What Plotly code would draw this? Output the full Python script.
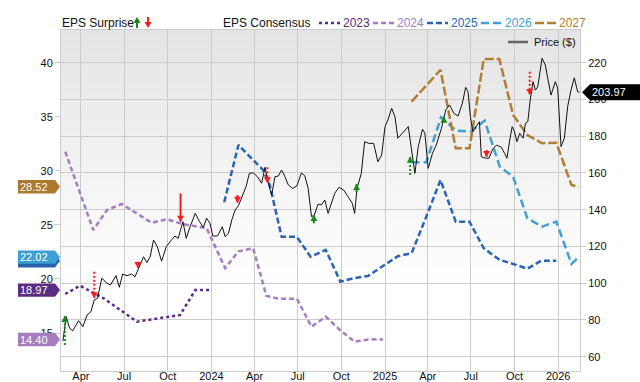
import plotly.graph_objects as go

# ---------------- data ----------------
price_dates = ["2023-02-22","2023-03-01","2023-03-08","2023-03-15","2023-03-27","2023-04-05","2023-04-14","2023-04-22","2023-04-29","2023-05-06","2023-05-15","2023-05-26","2023-06-02","2023-06-14","2023-06-21","2023-06-28","2023-07-07","2023-07-17","2023-07-24","2023-08-04","2023-08-11","2023-08-18","2023-08-25","2023-09-01","2023-09-09","2023-09-18","2023-09-28","2023-10-06","2023-10-16","2023-10-23","2023-11-02","2023-11-09","2023-11-17","2023-11-28","2023-12-07","2023-12-15","2023-12-22","2023-12-29","2024-01-04","2024-01-14","2024-01-24","2024-01-30","2024-02-06","2024-02-13","2024-02-20","2024-02-27","2024-03-05","2024-03-14","2024-03-21","2024-03-29","2024-04-07","2024-04-16","2024-04-23","2024-04-30","2024-05-07","2024-05-14","2024-05-21","2024-05-28","2024-06-04","2024-06-11","2024-06-20","2024-06-29","2024-07-09","2024-07-16","2024-07-23","2024-07-30","2024-08-05","2024-08-13","2024-08-20","2024-08-27","2024-09-03","2024-09-10","2024-09-17","2024-09-26","2024-10-06","2024-10-15","2024-10-24","2024-10-29","2024-11-03","2024-11-12","2024-11-19","2024-11-28","2024-12-08","2024-12-17","2024-12-25","2025-01-01","2025-01-07","2025-01-15","2025-01-22","2025-01-28","2025-02-08","2025-02-19","2025-02-26","2025-03-05","2025-03-12","2025-03-21","2025-03-26","2025-04-02","2025-04-11","2025-04-19","2025-04-30","2025-05-09","2025-05-17","2025-05-26","2025-06-04","2025-06-13","2025-06-20","2025-06-25","2025-06-30","2025-07-05","2025-07-12","2025-07-19","2025-07-23","2025-08-01","2025-08-08","2025-08-16","2025-08-24","2025-09-03","2025-09-10","2025-09-15","2025-09-21","2025-09-26","2025-10-01","2025-10-06","2025-10-12","2025-10-19","2025-10-24","2025-10-29","2025-11-03","2025-11-09","2025-11-14","2025-11-19","2025-11-28","2025-12-05","2025-12-10","2025-12-17","2025-12-26","2025-12-31","2026-01-07","2026-01-14","2026-01-21","2026-01-28","2026-02-04","2026-02-11","2026-02-15"]
price_values = [68.5, 81.8, 75.5, 74.2, 79.6, 76.3, 82.7, 84.5, 90.9, 91.8, 102.7, 100.0, 99.0, 104.1, 97.8, 105.0, 104.1, 105.0, 103.5, 110.8, 114.4, 111.2, 114.4, 123.5, 119.9, 112.0, 119.9, 122.6, 125.7, 124.4, 133.5, 124.4, 130.7, 138.0, 133.5, 130.4, 135.3, 132.6, 125.7, 125.7, 130.7, 125.3, 127.1, 134.4, 139.8, 142.2, 147.1, 152.5, 159.8, 160.1, 158.0, 154.4, 163.1, 154.4, 148.0, 158.0, 158.3, 161.6, 158.0, 153.5, 151.6, 152.9, 160.1, 158.3, 151.6, 136.2, 137.1, 143.1, 142.6, 145.3, 138.0, 143.5, 148.9, 152.2, 150.7, 147.1, 143.5, 138.0, 151.6, 159.8, 177.0, 176.1, 176.1, 166.1, 169.8, 185.2, 188.8, 195.2, 190.6, 178.9, 181.9, 185.2, 172.5, 159.8, 174.3, 183.8, 181.6, 162.5, 170.7, 175.2, 184.3, 194.3, 197.0, 192.5, 191.0, 197.9, 206.6, 204.2, 190.6, 182.4, 185.2, 187.9, 168.8, 168.0, 168.0, 172.9, 175.2, 174.0, 170.7, 168.0, 178.0, 185.2, 182.4, 177.0, 181.6, 178.9, 187.0, 187.9, 199.7, 209.7, 205.1, 206.9, 222.4, 218.7, 211.5, 202.4, 209.7, 206.1, 174.3, 178.9, 196.1, 205.1, 211.8, 204.2, 203.97]

eps2023_dates = ["2023-02-27","2023-03-30","2023-05-19","2023-07-28","2023-10-27","2023-11-28","2023-12-29"]
eps2023_values = [18.61, 19.38, 18.21, 16.05, 16.67, 18.97, 18.97]

eps2024_dates = ["2023-02-27","2023-04-27","2023-05-26","2023-06-26","2023-08-28","2023-09-29","2023-10-31","2023-12-22","2024-01-30","2024-02-27","2024-03-29","2024-04-26","2024-05-21","2024-06-29","2024-07-30","2024-08-29","2024-09-28","2024-10-29","2024-11-30","2024-12-28"]
eps2024_values = [31.77, 24.53, 26.38, 26.93, 25.20, 25.52, 25.09, 24.69, 21.00, 22.55, 22.84, 18.43, 18.18, 18.18, 15.59, 16.51, 15.28, 14.20, 14.42, 14.40]

eps2025_dates = ["2024-01-28","2024-02-27","2024-03-29","2024-04-19","2024-05-03","2024-05-28","2024-06-29","2024-07-28","2024-08-29","2024-09-29","2024-10-26","2024-11-26","2025-01-28","2025-02-26","2025-03-29","2025-04-28","2025-05-30","2025-06-28","2025-07-28","2025-08-31","2025-09-28","2025-10-28","2025-11-26","2025-12-28"]
eps2025_values = [27.10, 32.39, 31.00, 30.08, 28.69, 23.91, 23.91, 22.06, 22.68, 19.75, 20.06, 20.28, 22.10, 22.38, 25.76, 29.15, 25.30, 25.30, 22.84, 21.76, 21.39, 20.95, 21.69, 21.69]

eps2026_dates = ["2025-02-26","2025-03-29","2025-04-29","2025-05-31","2025-06-30","2025-07-30","2025-08-31","2025-09-28","2025-10-28","2025-11-28","2025-12-28","2026-01-29","2026-02-13"]
eps2026_values = [30.79, 30.79, 34.95, 33.71, 33.62, 34.64, 30.38, 29.46, 25.61, 24.84, 25.30, 21.39, 22.02]

eps2027_dates = ["2025-02-26","2025-04-28","2025-05-30","2025-06-28","2025-07-28","2025-08-30","2025-09-28","2025-10-28","2025-11-28","2025-12-28","2026-01-29","2026-02-13"]
eps2027_values = [36.40, 39.33, 32.08, 32.08, 40.34, 40.34, 35.16, 33.31, 32.55, 32.60, 28.69, 28.52]

surprise_dates = ["2023-02-26","2023-04-29","2023-07-30","2023-10-28","2024-02-25","2024-04-28","2024-08-04","2024-11-02","2025-02-23","2025-05-05","2025-08-03","2025-11-02"]
surprise_direction = [1, -1, -1, -1, -1, -1, 1, 1, 1, 1, -1, -1]
surprise_tip = [82.2, 91.8, 108.3, 133.5, 143.8, 154.4, 137.1, 154.0, 168.8, 190.6, 168.7, 202.4]
surprise_tail = [66.4, 106.3, 111.7, 148.9, 148.0, 163.1, 132.6, 149.6, 158.9, 187.7, 172.5, 215.1]
surprise_revised = [True, True, False, False, False, True, False, False, True, False, False, True]

x_tick_dates = ["2023-04-01","2023-07-01","2023-10-01","2024-01-01","2024-04-01","2024-07-01","2024-10-01","2025-01-01","2025-04-01","2025-07-01","2025-10-01","2026-01-01"]
x_tick_labels = ["Apr","Jul","Oct","2024","Apr","Jul","Oct","2025","Apr","Jul","Oct","2026"]
eps_ticks = [15, 20, 25, 30, 35, 40]
price_ticks = [60, 80, 100, 120, 140, 160, 180, 200, 220]
x_range = ["2023-02-18", "2026-02-16"]
eps_range = [11.49, 43.02]
price_range = [52.22, 237.8]

# ---------------- styling ----------------
FONT = "Liberation Sans, Arial, sans-serif"
W, H = 640, 382
PL, PR, PT, PB = 61, 580, 30, 371
GREEN = "#168a16"
RED = "#ff1a1a"
GRID = "#cccccc"

series = [
    dict(name="2023", dates=eps2023_dates, values=eps2023_values, color="#5b2b82", dash="3px,3px", tag="#5b2c7f"),
    dict(name="2024", dates=eps2024_dates, values=eps2024_values, color="#a47ec0", dash="5px,3px", tag="#a47dbf"),
    dict(name="2025", dates=eps2025_dates, values=eps2025_values, color="#2a64b2", dash="6px,3px", tag="#2a62ad"),
    dict(name="2026", dates=eps2026_dates, values=eps2026_values, color="#41a0d0", dash="8px,4px", tag="#3d9fd3"),
    dict(name="2027", dates=eps2027_dates, values=eps2027_values, color="#b07d33", dash="9px,3px", tag="#ab7a2e"),
]


def xp(px):
    return (px - PL) / (PR - PL)


def yp(py):
    return (PB - py) / (PB - PT)


fig = go.Figure()

for s in series:
    fig.add_trace(go.Scatter(x=s["dates"], y=s["values"], yaxis="y", mode="lines",
                             line=dict(color=s["color"], width=2.5, dash=s["dash"]),
                             hoverinfo="skip", showlegend=False))

fig.add_trace(go.Scatter(x=price_dates, y=price_values, yaxis="y2", mode="lines",
                         line=dict(color="#111111", width=1), hoverinfo="skip", showlegend=False))

shapes = []
# background gradient
n = 50
for i in range(n):
    t0, t1 = i / n, (i + 1) / n
    tm = (t0 + t1) / 2
    k = max(0.0, min(1.0, (tm - 0.25) / 0.75))
    v = round(255 - 27 * k)
    shapes.append(dict(type="rect", xref="paper", yref="paper", x0=0, x1=1, y0=t0, y1=min(1, t1 + 0.003),
                       fillcolor=f"rgb({v},{v},{v})", line=dict(width=0), layer="below"))

UP_HEAD = "M-3.5,-6 L3.5,-6 L0,0 Z"
DOWN_HEAD = "M-3.5,6 L3.5,6 L0,0 Z"

# surprise arrows
for d, s, tip, tail, rev in zip(surprise_dates, surprise_direction, surprise_tip, surprise_tail, surprise_revised):
    col = GREEN if s > 0 else RED
    shapes.append(dict(type="line", xref="x", yref="y2", x0=d, x1=d, y0=tail, y1=tip,
                       line=dict(color=col, width=2, dash="2px,2px" if rev else "solid"), layer="above"))
    shapes.append(dict(type="path", xref="x", yref="y2", xsizemode="pixel", ysizemode="pixel",
                       xanchor=d, yanchor=tip, path=UP_HEAD if s > 0 else DOWN_HEAD,
                       fillcolor=col, line=dict(width=0), layer="above"))

annotations = []

# value tags on the left (last consensus value)
for s in series:
    v = s["values"][-1]
    shapes.append(dict(type="path", xref="paper", yref="y", xsizemode="pixel", ysizemode="pixel",
                       xanchor=0, yanchor=v, path="M-43,-6.7 L-6,-6.7 L-1,0 L-6,6.7 L-43,6.7 Z",
                       fillcolor=s["tag"], line=dict(width=0), layer="above"))
    if s["name"] != "2025":
        annotations.append(dict(xref="paper", yref="y", x=xp(34), y=v, text=f"{v:.2f}", showarrow=False,
                                xanchor="center", yanchor="middle", font=dict(family=FONT, size=11, color="white")))

# price tag on the right
last_price = price_values[-1]
shapes.append(dict(type="path", xref="paper", yref="y2", xsizemode="pixel", ysizemode="pixel",
                   xanchor=1, yanchor=last_price, path="M2,0 L10,8 L62,8 L62,-8 L10,-8 Z",
                   fillcolor="#000000", line=dict(width=0), layer="above"))
annotations.append(dict(xref="paper", yref="y2", x=xp(590), y=last_price, text=f"{last_price:.2f}", showarrow=False,
                        xanchor="left", yanchor="middle", font=dict(family=FONT, size=11, color="white")))

# top legend
LY = 23
annotations.append(dict(xref="paper", yref="paper", x=xp(60), y=yp(LY), text="EPS Surprise", showarrow=False,
                        xanchor="left", yanchor="middle", font=dict(family=FONT, size=12, color="#111111")))
shapes.append(dict(type="path", xref="paper", yref="paper", xsizemode="pixel", ysizemode="pixel",
                   xanchor=xp(137), yanchor=yp(17), path="M0,-5 L0,-11", line=dict(color=GREEN, width=2), layer="above"))
shapes.append(dict(type="path", xref="paper", yref="paper", xsizemode="pixel", ysizemode="pixel",
                   xanchor=xp(137), yanchor=yp(17), path=UP_HEAD, fillcolor=GREEN, line=dict(width=0), layer="above"))
shapes.append(dict(type="path", xref="paper", yref="paper", xsizemode="pixel", ysizemode="pixel",
                   xanchor=xp(148), yanchor=yp(28), path="M0,5 L0,11", line=dict(color=RED, width=2), layer="above"))
shapes.append(dict(type="path", xref="paper", yref="paper", xsizemode="pixel", ysizemode="pixel",
                   xanchor=xp(148), yanchor=yp(28), path=DOWN_HEAD, fillcolor=RED, line=dict(width=0), layer="above"))

annotations.append(dict(xref="paper", yref="paper", x=xp(221), y=yp(LY), text="EPS Consensus", showarrow=False,
                        xanchor="left", yanchor="middle", font=dict(family=FONT, size=12, color="#111111")))
legend_x = [319, 373, 427, 481, 535]
for s, x0 in zip(series, legend_x):
    shapes.append(dict(type="line", xref="paper", yref="paper", x0=xp(x0), x1=xp(x0 + 21), y0=yp(LY), y1=yp(LY),
                       line=dict(color=s["color"], width=2.5, dash=s["dash"]), layer="above"))
    annotations.append(dict(xref="paper", yref="paper", x=xp(x0 + 22), y=yp(LY), text=s["name"], showarrow=False,
                            xanchor="left", yanchor="middle", font=dict(family=FONT, size=12, color=s["color"])))

# price legend inside plot
shapes.append(dict(type="line", xref="paper", yref="paper", x0=xp(508), x1=xp(528), y0=yp(42), y1=yp(42),
                   line=dict(color="#666666", width=2.5), layer="above"))
annotations.append(dict(xref="paper", yref="paper", x=xp(532), y=yp(42), text="Price ($)", showarrow=False,
                        xanchor="left", yanchor="middle", font=dict(family=FONT, size=11, color="#111111")))

fig.update_layout(
    width=W, height=H,
    margin=dict(l=PL, r=W - PR, t=PT, b=H - PB, pad=0, autoexpand=False),
    paper_bgcolor="white", plot_bgcolor="white",
    font=dict(family=FONT, size=11, color="#111111"),
    showlegend=False, hovermode=False,
    xaxis=dict(type="date", range=x_range, tickvals=x_tick_dates, ticktext=x_tick_labels, automargin=False,
               showgrid=True, gridcolor=GRID, gridwidth=1, ticks="", showline=True, linecolor=GRID,
               ticklabelstandoff=-5,
               mirror=True, zeroline=False, tickfont=dict(size=11, color="#111111"), fixedrange=True),
    yaxis=dict(range=eps_range, tickvals=eps_ticks, showgrid=False, ticks="outside", ticklen=5, automargin=False,
               tickcolor=GRID, showline=True, linecolor=GRID, mirror=True, zeroline=False,
               tickfont=dict(size=11, color="#111111"), fixedrange=True),
    yaxis2=dict(overlaying="y", side="right", range=price_range, tickvals=price_ticks, showgrid=True,
                automargin=False,
                gridcolor=GRID, gridwidth=1, ticks="outside", ticklen=5, tickcolor=GRID, showline=False,
                zeroline=False, tickfont=dict(size=11, color="#111111"), fixedrange=True),
    shapes=shapes,
    annotations=annotations,
)

fig.write_html("out.html", config={"displayModeBar": False, "staticPlot": True},
               post_script="document.body.style.margin='0px';document.body.style.overflow='hidden';")
